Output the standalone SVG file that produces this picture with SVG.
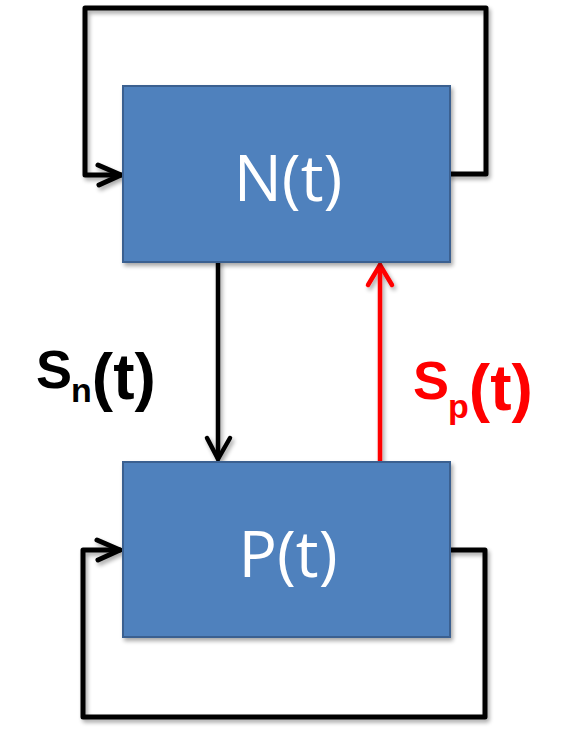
<svg xmlns="http://www.w3.org/2000/svg" width="572" height="732" viewBox="0 0 572 732">
<defs>
<filter id="sh" x="-10%" y="-10%" width="130%" height="130%">
<feGaussianBlur in="SourceAlpha" stdDeviation="2"/>
<feOffset dx="2" dy="3" result="b"/>
<feComponentTransfer><feFuncA type="linear" slope="0.35"/></feComponentTransfer>
<feMerge><feMergeNode/><feMergeNode in="SourceGraphic"/></feMerge>
</filter>
</defs>
<style>
.box{fill:#4F81BD;stroke:#3A6190;stroke-width:2}
.lbl{font-family:"Open Sans","Liberation Sans",sans-serif;font-size:64px;fill:#FFFFFF;text-anchor:middle}
.ln{fill:none;stroke:#000;stroke-width:5;stroke-linejoin:round;stroke-linecap:round}
.red{stroke:#FF0000;stroke-width:4.5}
.thin{stroke-width:4.5}
.sig{font-family:"Liberation Sans",Arial,sans-serif;font-weight:bold}
</style>
<rect width="572" height="732" fill="#FFFFFF"/>
<g id="connectors" filter="url(#sh)">
<path class="ln" d="M450,174 H486 V8 H85 V175 H121"/>
<path class="ln" d="M98,165 L121,175 L99,185"/>
<path class="ln" d="M450,550 H485 V717 H83 V550 H120"/>
<path class="ln" d="M97,540 L120,550 L98,560"/>
<path class="ln thin" d="M218,262 V459"/>
<path class="ln thin" d="M207,438 L218,459 L230,438"/>
<path class="ln red" d="M380,462 V265"/>
<path class="ln red" d="M368,285 L380,265 L392,285"/>
</g>
<g id="node-N">
<rect class="box" x="123" y="86" width="327" height="176" filter="url(#sh)"/>
<text class="lbl" x="288" y="201">N(t)</text>
</g>
<g id="node-P">
<rect class="box" x="123" y="462" width="327" height="175" filter="url(#sh)"/>
<text class="lbl" x="288" y="577">P(t)</text>
</g>
<g id="label-Sn">
<text class="sig" fill="#000000" x="36" y="388" font-size="54">S<tspan font-size="34" y="402" dx="-1">n</tspan><tspan font-size="64" y="399">(t)</tspan></text>
</g>
<g id="label-Sp">
<text class="sig" fill="#FF0000" x="413" y="399" font-size="54">S<tspan font-size="34" y="418" dx="-1">p</tspan><tspan font-size="64" y="410">(t)</tspan></text>
</g>
</svg>
